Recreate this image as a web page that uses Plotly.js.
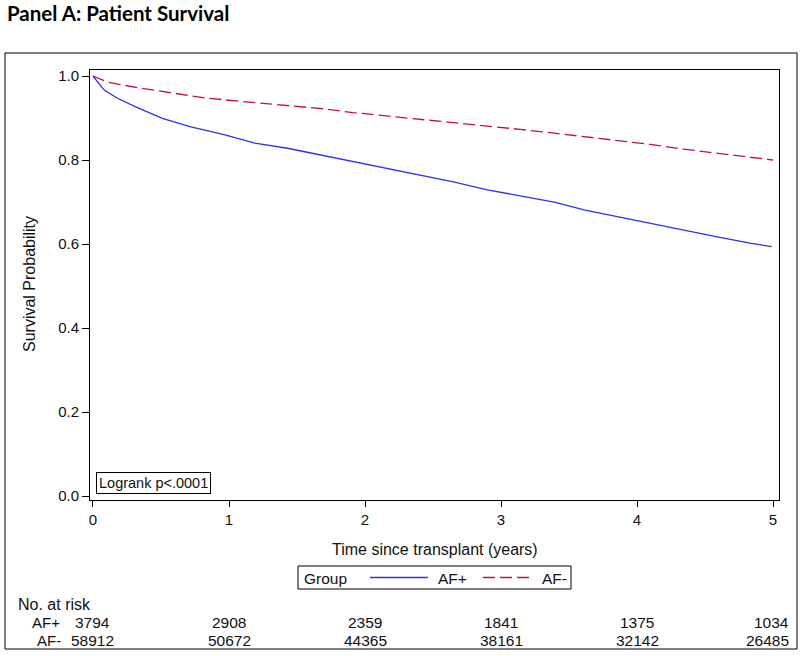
<!DOCTYPE html>
<html>
<head>
<meta charset="utf-8">
<script src="https://cdn.plot.ly/plotly-3.0.1.min.js"></script>
<style>
  html, body { margin: 0; padding: 0; background: #ffffff; }
  #chart { width: 800px; height: 656px; }
</style>
</head>
<body>
<div id="chart"></div>
<script>
// ---- Data ----
const groupNames = ["AF+", "AF-"];

const timeAFpos = [0, 0.04, 0.08, 0.18, 0.31, 0.51, 0.72, 0.97, 1.19, 1.43, 1.69, 1.91, 2.16, 2.40, 2.65, 2.90, 3.14, 3.40, 3.61, 3.85, 4.10, 4.34, 4.59, 4.83, 4.99];
const survAFpos = [1.0, 0.983, 0.967, 0.947, 0.927, 0.899, 0.879, 0.860, 0.840, 0.828, 0.811, 0.796, 0.780, 0.764, 0.748, 0.729, 0.714, 0.699, 0.681, 0.665, 0.649, 0.633, 0.617, 0.602, 0.594];

const timeAFneg = [0, 0.11, 0.33, 0.58, 0.82, 1.07, 1.31, 1.69, 1.91, 2.16, 2.40, 2.65, 2.90, 3.14, 3.39, 3.61, 3.85, 4.10, 4.34, 4.59, 4.83, 5.0];
const survAFneg = [1.0, 0.985, 0.972, 0.960, 0.948, 0.940, 0.933, 0.922, 0.913, 0.905, 0.897, 0.890, 0.881, 0.873, 0.864, 0.856, 0.846, 0.837, 0.826, 0.816, 0.808, 0.800];

const riskTimes = [0, 1, 2, 3, 4, 5];
const riskAFpos = [3794, 2908, 2359, 1841, 1375, 1034];
const riskAFneg = [58912, 50672, 44365, 38161, 32142, 26485];

const xTickVals = [0, 1, 2, 3, 4, 5];
const yTickVals = [0.0, 0.2, 0.4, 0.6, 0.8, 1.0];

const chartTitle = "Panel A: Patient Survival";
const xTitle = "Time since transplant (years)";
const yTitle = "Survival Probability";
const legendTitle = "Group";
const testText = "Logrank p<.0001";
const riskHeader = "No. at risk";

// ---- Styles ----
const lineStyles = [
  { color: "#2f2ff5", width: 1.3 },
  { color: "#c8102e", width: 1.3, dash: "12px,5px" }
];

// ---- Layout geometry ----
const W = 800, H = 656;
const M = { l: 90, r: 21, t: 70, b: 156 };
const plotW = W - M.l - M.r, plotH = H - M.t - M.b;
const px = v => (v - M.l) / plotW;          // pixel x -> paper x
const py = v => (H - M.b - v) / plotH;      // pixel y -> paper y

const FONT = "Liberation Sans, Arial, sans-serif";
const TXT = "#111111";
const fnt = s => ({ family: FONT, size: s, color: TXT });

const traces = [
  { x: timeAFpos, y: survAFpos, name: groupNames[0], type: "scatter", mode: "lines",
    line: Object.assign({ shape: "linear" }, lineStyles[0]), hoverinfo: "skip" },
  { x: timeAFneg, y: survAFneg, name: groupNames[1], type: "scatter", mode: "lines",
    line: Object.assign({ shape: "linear" }, lineStyles[1]), hoverinfo: "skip" }
];

const annotations = [
  { xref: "paper", yref: "paper", x: px(96), y: py(494), xanchor: "left", yanchor: "bottom",
    text: testText, showarrow: false, font: fnt(14.5),
    bordercolor: "#000", borderwidth: 1, borderpad: 2, bgcolor: "#fff" },
  { xref: "paper", yref: "paper", x: px(16), y: py(604), xanchor: "left", yanchor: "middle",
    text: riskHeader, showarrow: false, font: fnt(16) },
  { xref: "paper", yref: "paper", x: px(62), y: py(622), xanchor: "right", yanchor: "middle",
    text: groupNames[0], showarrow: false, font: fnt(15) },
  { xref: "paper", yref: "paper", x: px(63), y: py(640), xanchor: "right", yanchor: "middle",
    text: groupNames[1], showarrow: false, font: fnt(15) },
  // custom legend texts
  { xref: "paper", yref: "paper", x: px(302), y: py(578), xanchor: "left", yanchor: "middle",
    text: legendTitle, showarrow: false, font: fnt(15.5) },
  { xref: "paper", yref: "paper", x: px(436), y: py(578), xanchor: "left", yanchor: "middle",
    text: groupNames[0], showarrow: false, font: fnt(15.5) },
  { xref: "paper", yref: "paper", x: px(540), y: py(578), xanchor: "left", yanchor: "middle",
    text: groupNames[1], showarrow: false, font: fnt(15.5) },
  // axis titles
  { xref: "paper", yref: "paper", x: px(435), y: py(549), xanchor: "center", yanchor: "middle",
    text: xTitle, showarrow: false, font: fnt(16) },
  { xref: "paper", yref: "paper", x: px(29), y: py(284), xanchor: "center", yanchor: "middle",
    text: yTitle, showarrow: false, textangle: -90, font: fnt(16) }
];
riskTimes.forEach((t, i) => {
  const last = i === riskTimes.length - 1;
  [[riskAFpos, 622], [riskAFneg, 640]].forEach(([arr, yy]) => {
    annotations.push({
      xref: "x", yref: "paper", x: t, y: py(yy),
      xanchor: last ? "right" : "center", xshift: last ? 18 : 0, yanchor: "middle",
      text: String(arr[i]), showarrow: false, font: fnt(15.5)
    });
  });
});

const shapes = [
  // outer frame
  { type: "rect", xref: "paper", yref: "paper", x0: px(5), x1: px(797), y0: py(649), y1: py(53),
    line: { color: "#000", width: 1 }, fillcolor: "rgba(0,0,0,0)" },
  // legend frame
  { type: "rect", xref: "paper", yref: "paper", x0: px(298), x1: px(571), y0: py(589), y1: py(566),
    line: { color: "#000", width: 1 }, fillcolor: "rgba(0,0,0,0)" },
  // legend samples
  { type: "line", xref: "paper", yref: "paper", x0: px(370), x1: px(428), y0: py(577.5), y1: py(577.5),
    line: lineStyles[0] },
  { type: "line", xref: "paper", yref: "paper", x0: px(483), x1: px(530), y0: py(577.5), y1: py(577.5),
    line: lineStyles[1] }
];

const layout = {
  width: W, height: H,
  margin: M,
  paper_bgcolor: "#fff", plot_bgcolor: "#fff",
  showlegend: false,
  title: {
    text: "<b>" + chartTitle + "</b>",
    xref: "container", yref: "container",
    x: 7 / W, xanchor: "left", y: 1 - 14 / H, yanchor: "middle",
    font: { family: "Lato, Carlito, sans-serif", size: 20.5, color: "#000" }
  },
  xaxis: {
    range: [-0.022, 5.044], tickvals: xTickVals, ticktext: xTickVals.map(String),
    showgrid: false, zeroline: false, showline: true, mirror: true,
    linecolor: "#000", linewidth: 1, ticks: "outside", ticklen: 6, tickcolor: "#000",
    tickfont: fnt(15)
  },
  yaxis: {
    range: [-0.0095, 1.0143], tickvals: yTickVals, ticktext: yTickVals.map(v => v.toFixed(1)),
    showgrid: false, zeroline: false, showline: true, mirror: true,
    linecolor: "#000", linewidth: 1, ticks: "outside", ticklen: 7, tickcolor: "#000",
    tickfont: fnt(15)
  },
  shapes: shapes,
  annotations: annotations
};

Plotly.newPlot("chart", traces, layout, { displayModeBar: false, staticPlot: true });
</script>
</body>
</html>
